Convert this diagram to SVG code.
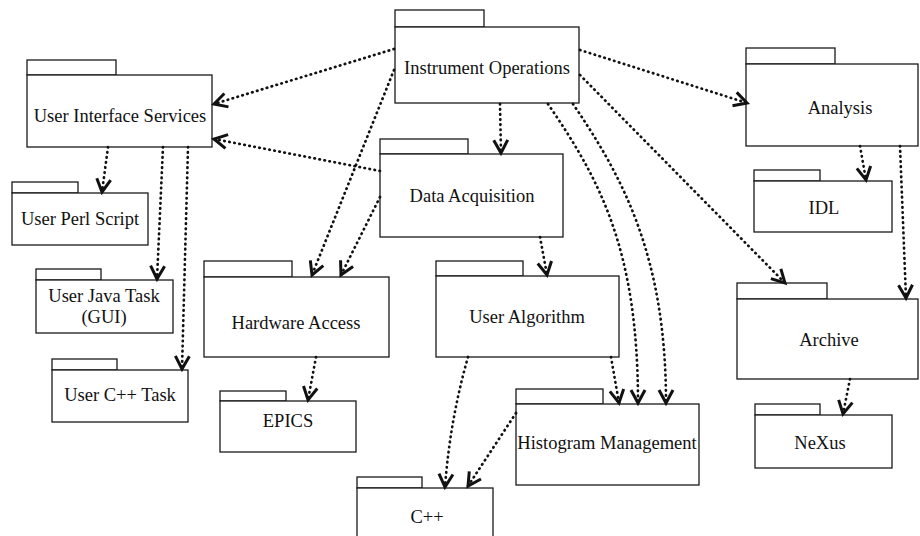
<svg xmlns="http://www.w3.org/2000/svg" width="920" height="536" viewBox="0 0 920 536">
  <defs>
    <style>
      .tab, .body { fill: #fff; stroke: #1a1a1a; stroke-width: 1.3; }
      .label { font-family: "Liberation Serif", "Times New Roman", serif; font-size: 18.5px; fill: #111; text-anchor: middle; }
      .dep { fill: none; stroke: #111; stroke-width: 2.7; stroke-linecap: round; stroke-dasharray: 0.5 4.6; marker-end: url(#vee); }
    </style>
    <!-- open "V" arrowhead for dependency arrows -->
    <marker id="vee" markerUnits="userSpaceOnUse" markerWidth="20" markerHeight="20" refX="14" refY="8" orient="auto" overflow="visible">
      <path d="M1,1 L14,8 L1,15" fill="none" stroke="#111" stroke-width="3" stroke-linejoin="miter"/>
    </marker>
  </defs>

  <rect x="0" y="0" width="920" height="536" fill="#fff"/>

  <!-- packages -->
  <g id="user-interface-services">
    <rect class="tab" x="27" y="60" width="89" height="15"/>
    <rect class="body" x="27" y="75" width="185" height="72"/>
    <text class="label" x="120" y="122">User Interface Services</text>
  </g>
  <g id="instrument-operations">
    <rect class="tab" x="395" y="10" width="89" height="17"/>
    <rect class="body" x="395" y="27" width="184" height="76"/>
    <text class="label" x="487" y="74">Instrument Operations</text>
  </g>
  <g id="analysis">
    <rect class="tab" x="746" y="48" width="89" height="16"/>
    <rect class="body" x="746" y="64" width="172" height="82"/>
    <text class="label" x="840" y="114">Analysis</text>
  </g>
  <g id="data-acquisition">
    <rect class="tab" x="380" y="139" width="88" height="15"/>
    <rect class="body" x="380" y="154" width="183" height="83"/>
    <text class="label" x="472" y="202">Data Acquisition</text>
  </g>
  <g id="user-perl-script">
    <rect class="tab" x="12" y="182" width="66" height="11"/>
    <rect class="body" x="12" y="193" width="136" height="52"/>
    <text class="label" x="80" y="225">User Perl Script</text>
  </g>
  <g id="user-java-task">
    <rect class="tab" x="36" y="269" width="65" height="11"/>
    <rect class="body" x="36" y="280" width="137" height="53"/>
    <text class="label" x="104" y="302">User Java Task</text>
    <text class="label" x="104" y="323">(GUI)</text>
  </g>
  <g id="user-cpp-task">
    <rect class="tab" x="52" y="359" width="65" height="11"/>
    <rect class="body" x="52" y="370" width="136" height="52"/>
    <text class="label" x="120" y="401">User C++ Task</text>
  </g>
  <g id="hardware-access">
    <rect class="tab" x="204" y="261" width="88" height="16"/>
    <rect class="body" x="204" y="277" width="185" height="80"/>
    <text class="label" x="296" y="329">Hardware Access</text>
  </g>
  <g id="epics">
    <rect class="tab" x="220" y="391" width="66" height="10"/>
    <rect class="body" x="220" y="401" width="136" height="51"/>
    <text class="label" x="288" y="427">EPICS</text>
  </g>
  <g id="user-algorithm">
    <rect class="tab" x="436" y="261" width="87" height="15"/>
    <rect class="body" x="436" y="276" width="183" height="81"/>
    <text class="label" x="527" y="323">User Algorithm</text>
  </g>
  <g id="histogram-management">
    <rect class="tab" x="516" y="389" width="87" height="15"/>
    <rect class="body" x="516" y="404" width="183" height="81"/>
    <text class="label" x="607" y="449">Histogram Management</text>
  </g>
  <g id="cpp">
    <rect class="tab" x="357" y="477" width="65" height="11"/>
    <rect class="body" x="357" y="488" width="136" height="60"/>
    <text class="label" x="427" y="523">C++</text>
  </g>
  <g id="idl">
    <rect class="tab" x="754" y="170" width="66" height="11"/>
    <rect class="body" x="754" y="181" width="138" height="51"/>
    <text class="label" x="824" y="214">IDL</text>
  </g>
  <g id="archive">
    <rect class="tab" x="737" y="283" width="90" height="16"/>
    <rect class="body" x="737" y="299" width="181" height="80"/>
    <text class="label" x="829" y="346">Archive</text>
  </g>
  <g id="nexus">
    <rect class="tab" x="755" y="404" width="65" height="11"/>
    <rect class="body" x="755" y="415" width="137" height="53"/>
    <text class="label" x="820" y="449">NeXus</text>
  </g>

  <!-- dependency connectors -->
  <g id="connectors">
    <path class="dep" d="M394,49 L214,104"/>
    <path class="dep" d="M380,171 L214,139"/>
    <path class="dep" d="M394,70 L312,275"/>
    <path class="dep" d="M380,197 L341,275"/>
    <path class="dep" d="M500,104 L501,153"/>
    <path class="dep" d="M540,237 L547,275"/>
    <path class="dep" d="M548,104 C600,180 638,250 638,403"/>
    <path class="dep" d="M573,104 C625,180 666,260 666,403"/>
    <path class="dep" d="M611,357 L619,403"/>
    <path class="dep" d="M468,357 Q450,420 445,487"/>
    <path class="dep" d="M516,413 L468,486"/>
    <path class="dep" d="M580,50 L747,103"/>
    <path class="dep" d="M580,75 L785,283"/>
    <path class="dep" d="M860,146 L866,180"/>
    <path class="dep" d="M900,146 L906,298"/>
    <path class="dep" d="M850,379 L843,414"/>
    <path class="dep" d="M316,357 L308,400"/>
    <path class="dep" d="M108,147 L102,192"/>
    <path class="dep" d="M163,147 L157,279"/>
    <path class="dep" d="M188,147 L182,369"/>
  </g>
</svg>
